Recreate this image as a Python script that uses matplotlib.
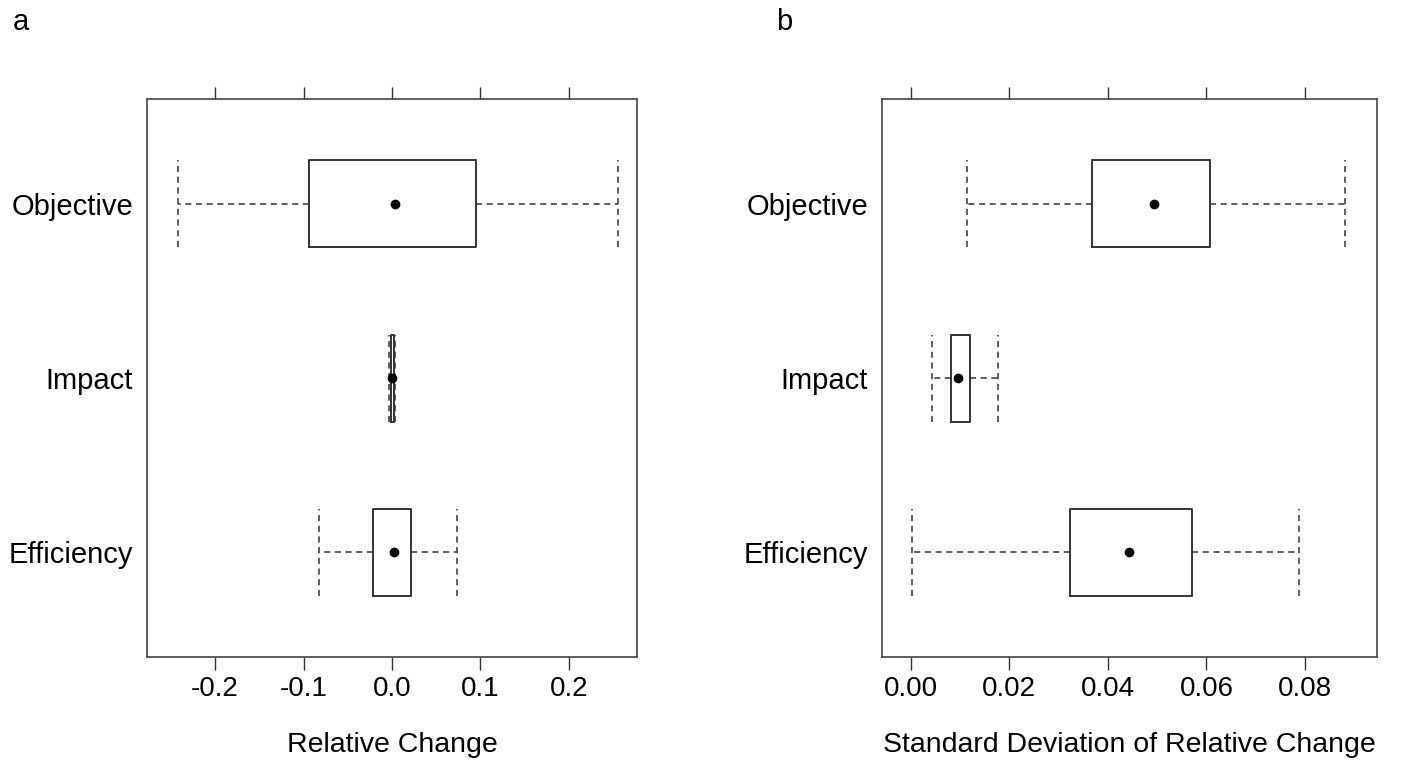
import numpy as np
import matplotlib.pyplot as plt

plt.rcParams['font.family'] = ['Liberation Sans', 'DejaVu Sans']

categories = ['Objective', 'Impact', 'Efficiency']
positions = [3, 2, 1]

# panel a: relative change
rc_low = [-0.242, -0.003, -0.083]
rc_q1 = [-0.094, -0.001, -0.022]
rc_med = [0.003, 0.0, 0.002]
rc_q3 = [0.095, 0.002, 0.021]
rc_high = [0.255, 0.003, 0.074]

# panel b: sd of relative change
sd_low = [0.0114, 0.0043, 0.0002]
sd_q1 = [0.0367, 0.0082, 0.0323]
sd_med = [0.0493, 0.0097, 0.0444]
sd_q3 = [0.0608, 0.0120, 0.0570]
sd_high = [0.0882, 0.0178, 0.0788]

rc_ticks = [-0.2, -0.1, 0.0, 0.1, 0.2]
rc_ticklabels = ['-0.2', '-0.1', '0.0', '0.1', '0.2']
sd_ticks = [0.0, 0.02, 0.04, 0.06, 0.08]
sd_ticklabels = ['0.00', '0.02', '0.04', '0.06', '0.08']


def draw_panel(ax, low, q1, med, q3, high, xlim, ticks, ticklabels, xlabel):
    stats = []
    for i in range(len(categories)):
        stats.append({'whislo': low[i], 'q1': q1[i], 'med': med[i],
                      'q3': q3[i], 'whishi': high[i], 'fliers': []})
    ax.bxp(stats, positions=positions, orientation='horizontal', widths=0.5,
           capwidths=0.5, showfliers=False,
           boxprops=dict(color='#333333', linewidth=1.4),
           whiskerprops=dict(color='#333333', linewidth=1.1, linestyle=(0, (4, 3))),
           capprops=dict(color='#333333', linewidth=1.1, linestyle=(0, (4, 3))),
           medianprops=dict(linewidth=0))
    ax.plot(med, positions, 'o', color='black', markersize=6, zorder=5)
    ax.set_xlim(xlim)
    ax.set_ylim(0.4, 3.6)
    ax.set_yticks(positions)
    ax.set_yticklabels(categories, fontsize=21)
    ax.set_xticks(ticks)
    ax.set_xticklabels(ticklabels, fontsize=20)
    ax.tick_params(axis='x', top=True, labeltop=False, direction='out',
                   length=9, width=1, color='#333333', pad=5)
    ax.tick_params(axis='y', left=False, length=0, pad=10)
    for s in ax.spines.values():
        s.set_color('#444444')
        s.set_linewidth(1.2)
    ax.set_xlabel(xlabel, fontsize=20.5, labelpad=21)


fig = plt.figure(figsize=(14.08, 7.6), dpi=100)
ax1 = fig.add_axes([0.1044, 0.1355, 0.348, 0.734])
ax2 = fig.add_axes([0.6264, 0.1355, 0.3516, 0.734])

draw_panel(ax1, rc_low, rc_q1, rc_med, rc_q3, rc_high, (-0.277, 0.277),
           rc_ticks, rc_ticklabels, 'Relative Change')
draw_panel(ax2, sd_low, sd_q1, sd_med, sd_q3, sd_high, (-0.0058, 0.0946),
           sd_ticks, sd_ticklabels, 'Standard Deviation of Relative Change')

fig.text(0.009, 0.971, 'a', fontsize=21, va='center')
fig.text(0.551, 0.971, 'b', fontsize=21, va='center')

fig.savefig('out.png', dpi=100)
